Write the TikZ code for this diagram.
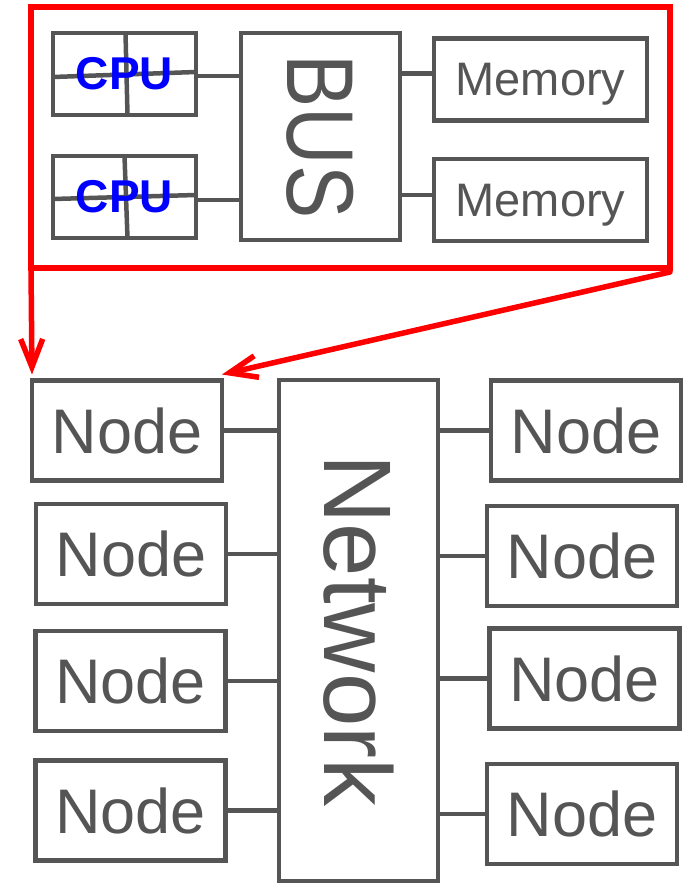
\documentclass[tikz,border=0pt]{standalone}
\usepackage{fontspec}
\usepackage{graphicx}
\setmainfont{Liberation Sans}
\usetikzlibrary{arrows.meta}

\definecolor{linegray}{HTML}{555555}
\definecolor{framered}{HTML}{FF0000}
\definecolor{cpublue}{HTML}{0000FF}

\newcommand{\fsize}[1]{\fontsize{#1}{#1}\selectfont}

\tikzset{
  box/.style={draw=linegray, line width=4.5pt, inner sep=0pt, outer sep=0pt, text=linegray},
  nodebox/.style={box, minimum width=190pt, minimum height=100pt, text depth=0pt, font=\fsize{63}},
  membox/.style={box, minimum width=213pt, minimum height=82pt, text depth=0pt, font=\fsize{47}},
  cpubox/.style={box, minimum width=143pt, minimum height=82pt},
  cputext/.style={text=cpublue, font=\fsize{46}\bfseries, inner sep=0pt},
  wire/.style={draw=linegray, line width=4.5pt},
  link/.style={draw=framered, line width=5.5pt, line cap=round, line join=round,
    -{Straight Barb[length=28pt,width=22pt]}},
}

\begin{document}
\begin{tikzpicture}[x=1pt, y=-1pt]
\useasboundingbox (0,0) rectangle (685,883);

\node[draw=framered, line width=5.5pt, inner sep=0pt, outer sep=0pt,
  minimum width=639pt, minimum height=261pt] (smp) at (350.5,137.5) {};

\node[cpubox] (cpu1) at (124.5,74) {};
\node[cpubox] (cpu2) at (124.5,197) {};
\draw[wire] ([xshift=1pt]cpu1.north) -- ([xshift=3pt]cpu1.south);
\draw[wire] ([yshift=-3pt]cpu1.west) -- ([yshift=2pt]cpu1.east);
\draw[wire] ([xshift=0pt]cpu2.north) -- ([xshift=3pt]cpu2.south);
\draw[wire] ([yshift=-2pt]cpu2.west) -- ([yshift=2pt]cpu2.east);
\node[cputext] (cpulabel1) at (cpu1) {CPU};
\node[cputext] (cpulabel2) at (cpu2) {CPU};

\node[box, minimum width=159pt, minimum height=207pt, font=\fsize{95}] (bus) at (320.5,136.5)
  {\rotatebox{-90}{\scalebox{0.84}[1]{BUS}}};
\node[membox] (mem1) at (540.5,79.5) {Memory};
\node[membox] (mem2) at (540.5,200) {Memory};

\draw[wire] ([yshift=-2pt]cpu1.east) -- ([yshift=-2pt]cpu1.east -| bus.west);
\draw[wire] ([yshift=-3pt]cpu2.east) -- ([yshift=-3pt]cpu2.east -| bus.west);
\draw[wire] ([yshift=6pt]bus.east |- mem1.west) -- ([yshift=6pt]mem1.west);
\draw[wire] ([yshift=5pt]bus.east |- mem2.west) -- ([yshift=5pt]mem2.west);

\node[box, minimum width=159pt, minimum height=501pt, font=\fsize{96}] (net) at (358.5,630.5)
  {\rotatebox{-90}{Network}};

\node[nodebox] (left1) at (127,430.5) {Node};
\node[nodebox] (left2) at (131,554) {Node};
\node[nodebox] (left3) at (130.5,681) {Node};
\node[nodebox] (left4) at (130.5,810.5) {Node};
\node[nodebox] (right1) at (586,430.5) {Node};
\node[nodebox] (right2) at (582,556) {Node};
\node[nodebox] (right3) at (584.5,678.5) {Node};
\node[nodebox] (right4) at (582,814) {Node};

\draw[wire] (left1.east) -- (left1.east -| net.west);
\draw[wire] (left2.east) -- (left2.east -| net.west);
\draw[wire] (left3.east) -- (left3.east -| net.west);
\draw[wire] (left4.east) -- (left4.east -| net.west);
\draw[wire] (net.east |- right1.west) -- (right1.west);
\draw[wire] (net.east |- right2.west) -- (right2.west);
\draw[wire] (net.east |- right3.west) -- (right3.west);
\draw[wire] (net.east |- right4.west) -- (right4.west);

\draw[link] (smp.south west) -- ([yshift=6pt]left1.north west);
\draw[link] ([yshift=-4pt]smp.south east) -- ([yshift=6pt]left1.north east);
\end{tikzpicture}
\end{document}
